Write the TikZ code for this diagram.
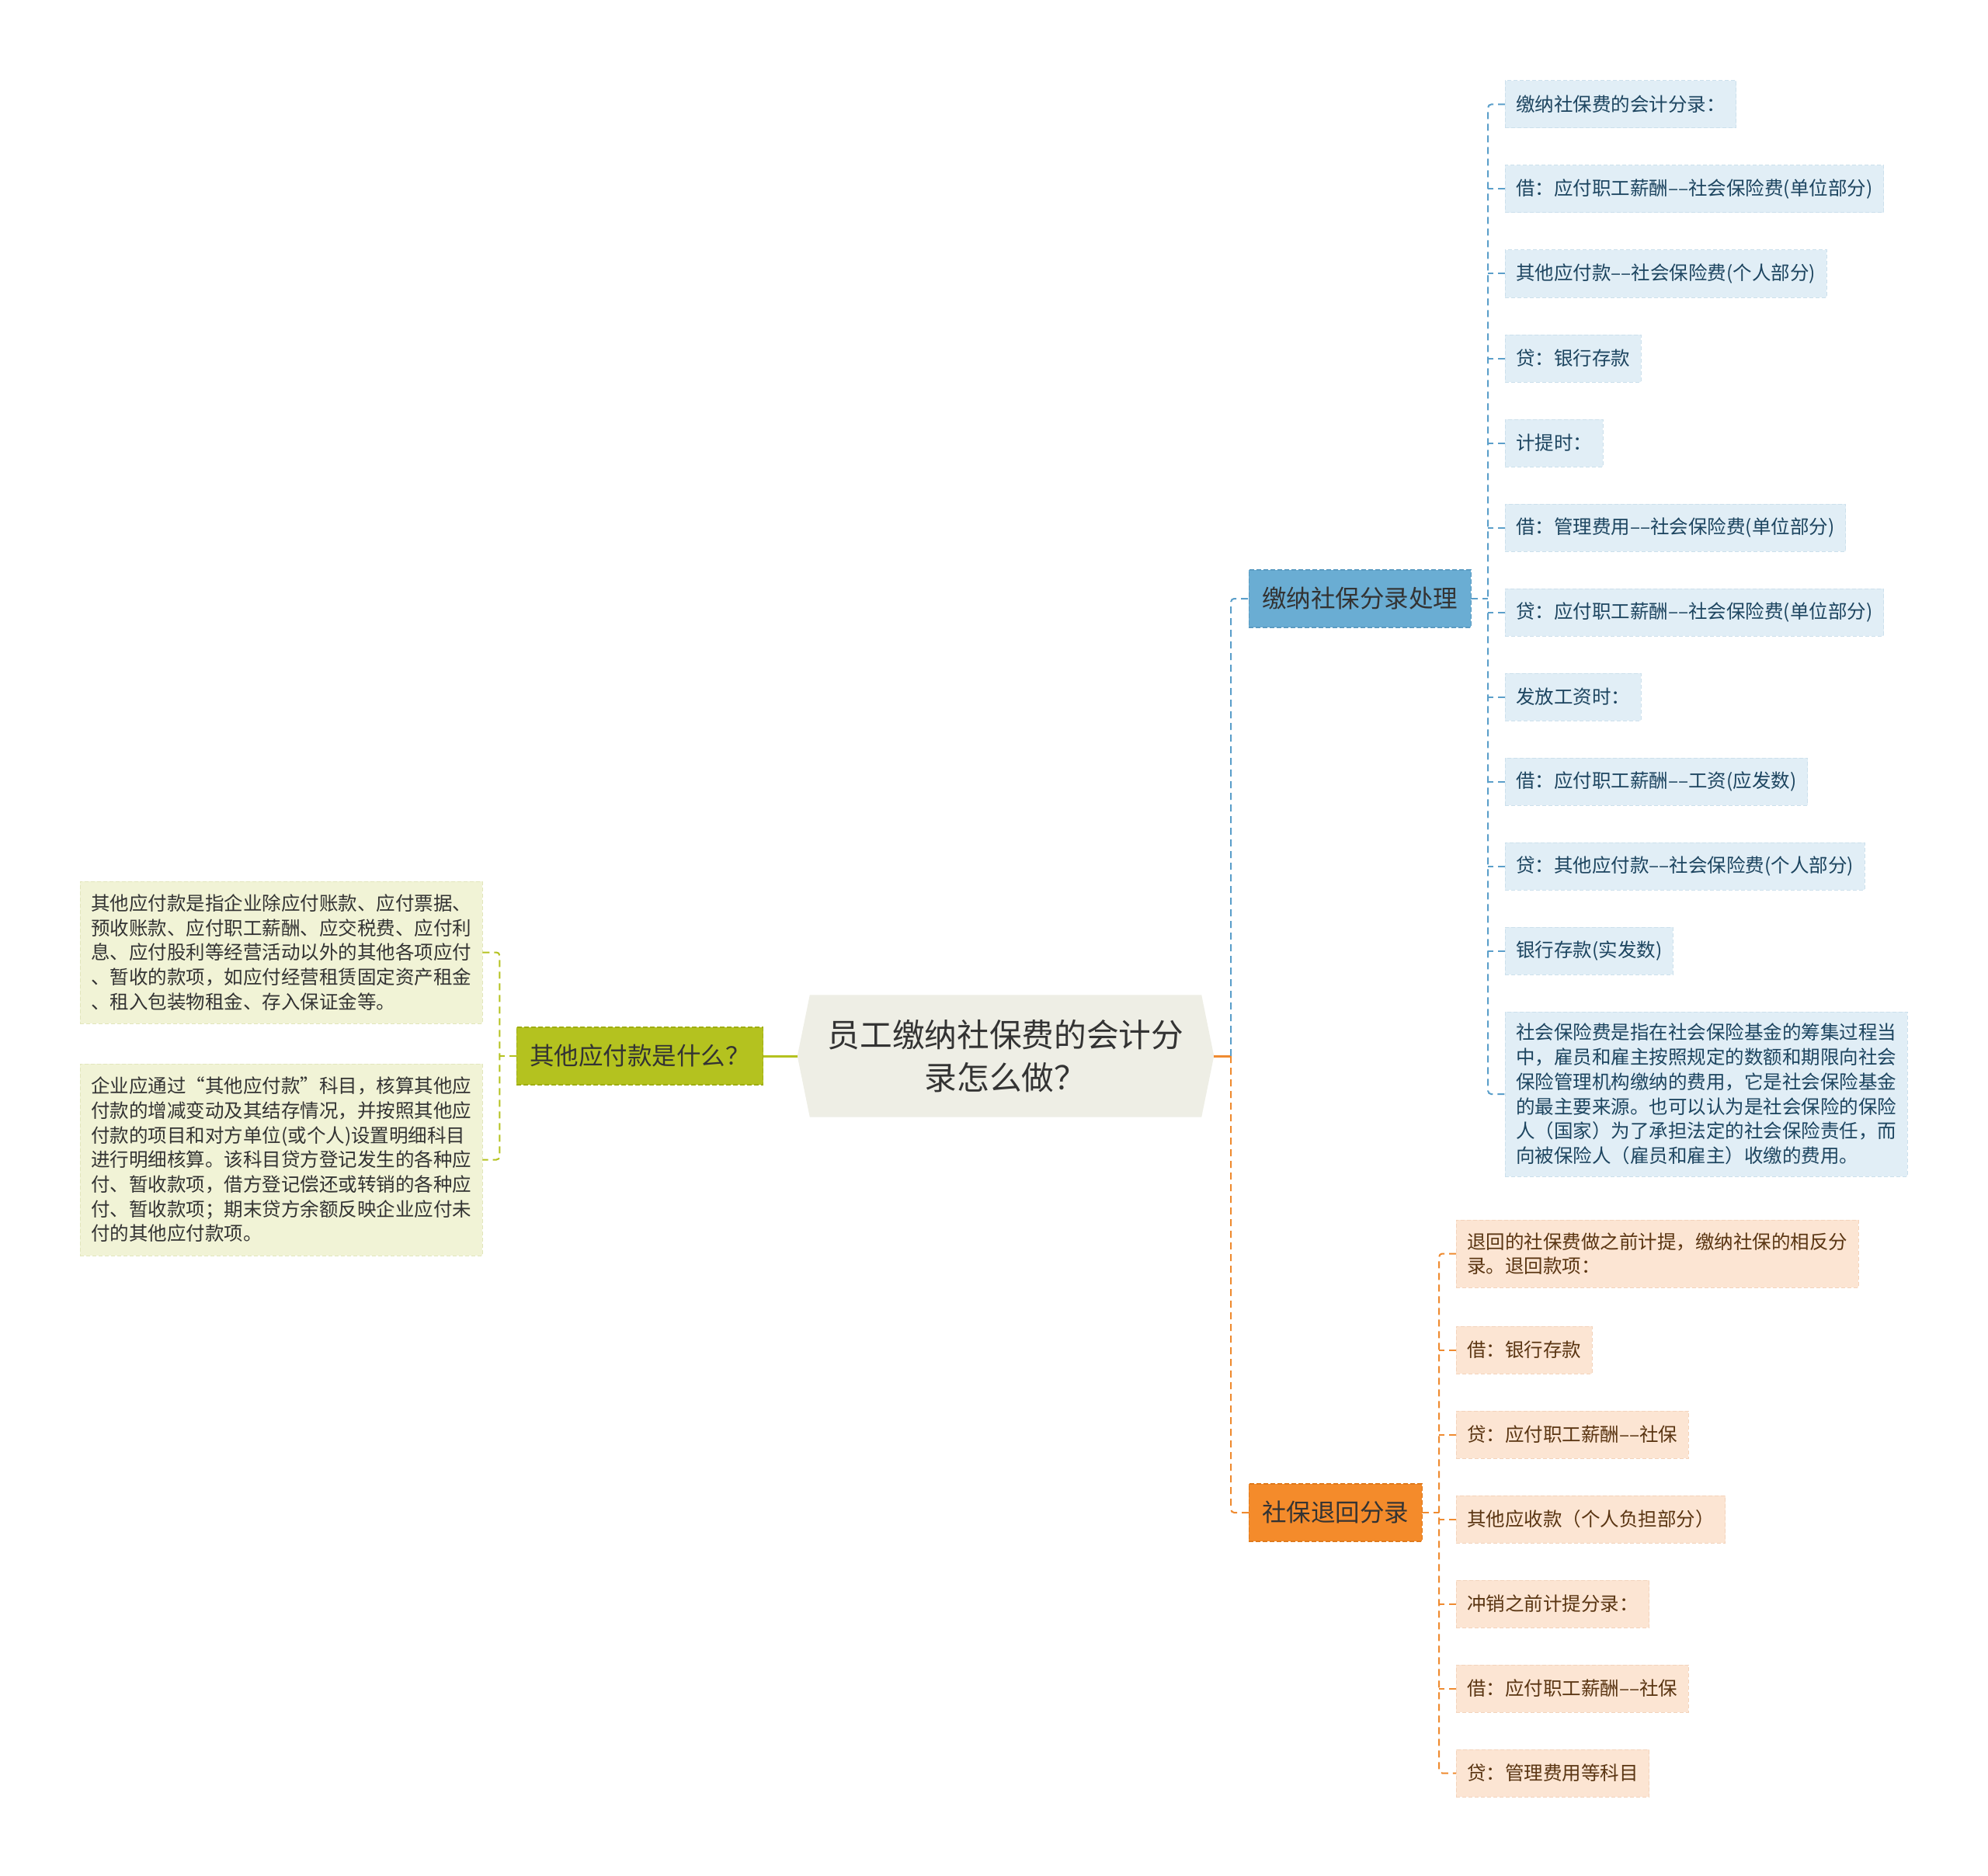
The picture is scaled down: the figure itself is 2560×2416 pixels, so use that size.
\documentclass[tikz,border=0pt]{standalone}
\usepackage{fontspec}
\setmainfont{Noto Sans CJK SC}
\usepackage{tikz}
\usetikzlibrary{positioning,backgrounds}

\definecolor{rootfill}{HTML}{EEEEE5}
\definecolor{inkgray}{HTML}{333333}
\definecolor{olvmain}{HTML}{B4C21F}
\definecolor{olvedge}{HTML}{9FAD12}
\definecolor{olvpale}{HTML}{F1F3D6}
\definecolor{olvpaleedge}{HTML}{E2E6BC}
\definecolor{blumain}{HTML}{6AADD3}
\definecolor{bluedge}{HTML}{5A9BC2}
\definecolor{blupale}{HTML}{E1EEF6}
\definecolor{blupaleedge}{HTML}{CCE0EC}
\definecolor{bluink}{HTML}{1D4560}
\definecolor{blulink}{HTML}{5B9FCA}
\definecolor{orgmain}{HTML}{F48B2B}
\definecolor{orgedge}{HTML}{E07A1C}
\definecolor{orgpale}{HTML}{FCE5D3}
\definecolor{orgpaleedge}{HTML}{F3D3BB}
\definecolor{orgink}{HTML}{5A3512}
\definecolor{orglink}{HTML}{EF8B30}

\begin{document}
\begin{tikzpicture}[x=1pt,y=-1pt,
   root/.style={align=center,text=inkgray,font=\fontsize{41.7}{55.5}\selectfont,
      minimum width=504pt,minimum height=157pt,inner sep=0pt},
   topic/.style={font=\fontsize{31.5}{38}\selectfont,text=inkgray,inner xsep=17pt,inner ysep=0pt,
      minimum height=74pt,outer sep=0pt,line width=1.2pt,dash pattern=on 6pt off 3pt},
   leaf/.style={font=\fontsize{24.5}{31.7}\selectfont,align=left,inner xsep=14pt,inner ysep=0pt,
      minimum height=61pt,outer sep=0pt,line width=1pt,dash pattern=on 5pt off 3pt},
   olvleaf/.style={leaf,fill=olvpale,draw=olvpaleedge,text=inkgray},
   bluleaf/.style={leaf,fill=blupale,draw=blupaleedge,text=bluink},
   orgleaf/.style={leaf,fill=orgpale,draw=orgpaleedge,text=orgink},
   olvline/.style={draw=olvmain,line width=2pt,dash pattern=on 9pt off 6pt,rounded corners=4pt},
   bluline/.style={draw=blulink,line width=2pt,dash pattern=on 9pt off 6pt,rounded corners=4pt},
   orgline/.style={draw=orglink,line width=2pt,dash pattern=on 9pt off 6pt,rounded corners=4pt}]

   \useasboundingbox (0,0) rectangle (2560,2416);

   % centre
   \node[root] (root) at (1295,1360) {员工缴纳社保费的会计分\\录怎么做？};

   % main branches
   \node[topic,fill=olvmain,draw=olvedge] (olv) [left=60pt of root.west] {其他应付款是什么？};
   \node[topic,fill=blumain,draw=bluedge] (blu) [above right=589pt and 61pt of root.east,anchor=west] {缴纳社保分录处理};
   \node[topic,fill=orgmain,draw=orgedge] (org) [below right=588pt and 61pt of root.east,anchor=west] {社保退回分录};

   % left side
   \node[olvleaf,minimum height=183pt] (la) [above left=133.5pt and 44pt of olv.west,anchor=east]
      {其他应付款是指企业除应付账款、应付票据、\\预收账款、应付职工薪酬、应交税费、应付利\\息、应付股利等经营活动以外的其他各项应付\\、暂收的款项，如应付经营租赁固定资产租金\\、租入包装物租金、存入保证金等。};
   \node[olvleaf,minimum height=247pt] (lb) [below left=133.5pt and 44pt of olv.west,anchor=east]
      {企业应通过“其他应付款”科目，核算其他应\\付款的增减变动及其结存情况，并按照其他应\\付款的项目和对方单位(或个人)设置明细科目\\进行明细核算。该科目贷方登记发生的各种应\\付、暂收款项，借方登记偿还或转销的各种应\\付、暂收款项；期末贷方余额反映企业应付未\\付的其他应付款项。};

   % blue side
   \node[bluleaf] (b1) [above right=636.5pt and 330pt of blu.west,anchor=west] {缴纳社保费的会计分录：};
   \node[bluleaf] (b2) [below=48pt of b1.south west,anchor=north west] {借：应付职工薪酬––社会保险费(单位部分)};
   \node[bluleaf] (b3) [below=48pt of b2.south west,anchor=north west] {其他应付款––社会保险费(个人部分)};
   \node[bluleaf] (b4) [below=48pt of b3.south west,anchor=north west] {贷：银行存款};
   \node[bluleaf] (b5) [below=48pt of b4.south west,anchor=north west] {计提时：};
   \node[bluleaf] (b6) [below=48pt of b5.south west,anchor=north west] {借：管理费用––社会保险费(单位部分)};
   \node[bluleaf] (b7) [below=48pt of b6.south west,anchor=north west] {贷：应付职工薪酬––社会保险费(单位部分)};
   \node[bluleaf] (b8) [below=48pt of b7.south west,anchor=north west] {发放工资时：};
   \node[bluleaf] (b9) [below=48pt of b8.south west,anchor=north west] {借：应付职工薪酬––工资(应发数)};
   \node[bluleaf] (b10) [below=48pt of b9.south west,anchor=north west] {贷：其他应付款––社会保险费(个人部分)};
   \node[bluleaf] (b11) [below=48pt of b10.south west,anchor=north west] {银行存款(实发数)};
   \node[bluleaf,minimum height=212pt] (b12) [below=48pt of b11.south west,anchor=north west]
      {社会保险费是指在社会保险基金的筹集过程当\\中，雇员和雇主按照规定的数额和期限向社会\\保险管理机构缴纳的费用，它是社会保险基金\\的最主要来源。也可以认为是社会保险的保险\\人（国家）为了承担法定的社会保险责任，而\\向被保险人（雇员和雇主）收缴的费用。};

   % orange side
   \node[orgleaf,minimum height=87pt] (o1) [above right=333.5pt and 267pt of org.west,anchor=west]
      {退回的社保费做之前计提，缴纳社保的相反分\\录。退回款项：};
   \node[orgleaf] (o2) [below=50pt of o1.south west,anchor=north west] {借：银行存款};
   \node[orgleaf] (o3) [below=48pt of o2.south west,anchor=north west] {贷：应付职工薪酬––社保};
   \node[orgleaf] (o4) [below=48pt of o3.south west,anchor=north west] {其他应收款（个人负担部分）};
   \node[orgleaf] (o5) [below=48pt of o4.south west,anchor=north west] {冲销之前计提分录：};
   \node[orgleaf] (o6) [below=48pt of o5.south west,anchor=north west] {借：应付职工薪酬––社保};
   \node[orgleaf] (o7) [below=48pt of o6.south west,anchor=north west] {贷：管理费用等科目};

   \begin{scope}[on background layer]
      \fill[white] (0,0) rectangle (2560,2416);
      \fill[rootfill] (root.north west) -- (root.north east) -- ([xshift=16pt]root.east)
         -- (root.south east) -- (root.south west) -- ([xshift=-16pt]root.west) -- cycle;
   \end{scope}

   \coordinate (lt) at ([xshift=-22pt]olv.west);
   \coordinate (bt) at ([xshift=-22pt]b1.west);
   \coordinate (ot) at ([xshift=-22pt]o1.west);

   % links
   \draw[olvmain,line width=3pt] ([xshift=-16pt]root.west) -- (olv.east);
   \draw[orglink,line width=3pt] ([xshift=16pt]root.east) -- ++(22,0) coordinate (rj);
   \draw[bluline] (rj) |- (blu.west);
   \draw[orgline] (rj) |- (org.west);

   \draw[olvline] (olv.west) -- (lt);
   \draw[olvline] (la.east) -| (lt |- lb.east) -- (lb.east);

   \draw[bluline] (blu.east) -- (bt |- blu.east);
   \draw[bluline] (b1.west) -| (bt |- b12.west) -- (b12.west);
   \draw[bluline] (b2.west) -- (bt |- b2.west) (b3.west) -- (bt |- b3.west)
      (b4.west) -- (bt |- b4.west) (b5.west) -- (bt |- b5.west)
      (b6.west) -- (bt |- b6.west) (b7.west) -- (bt |- b7.west)
      (b8.west) -- (bt |- b8.west) (b9.west) -- (bt |- b9.west)
      (b10.west) -- (bt |- b10.west) (b11.west) -- (bt |- b11.west);

   \draw[orgline] (org.east) -- (ot |- org.east);
   \draw[orgline] (o1.west) -| (ot |- o7.west) -- (o7.west);
   \draw[orgline] (o2.west) -- (ot |- o2.west) (o3.west) -- (ot |- o3.west)
      (o4.west) -- (ot |- o4.west) (o5.west) -- (ot |- o5.west)
      (o6.west) -- (ot |- o6.west);
\end{tikzpicture}
\end{document}
